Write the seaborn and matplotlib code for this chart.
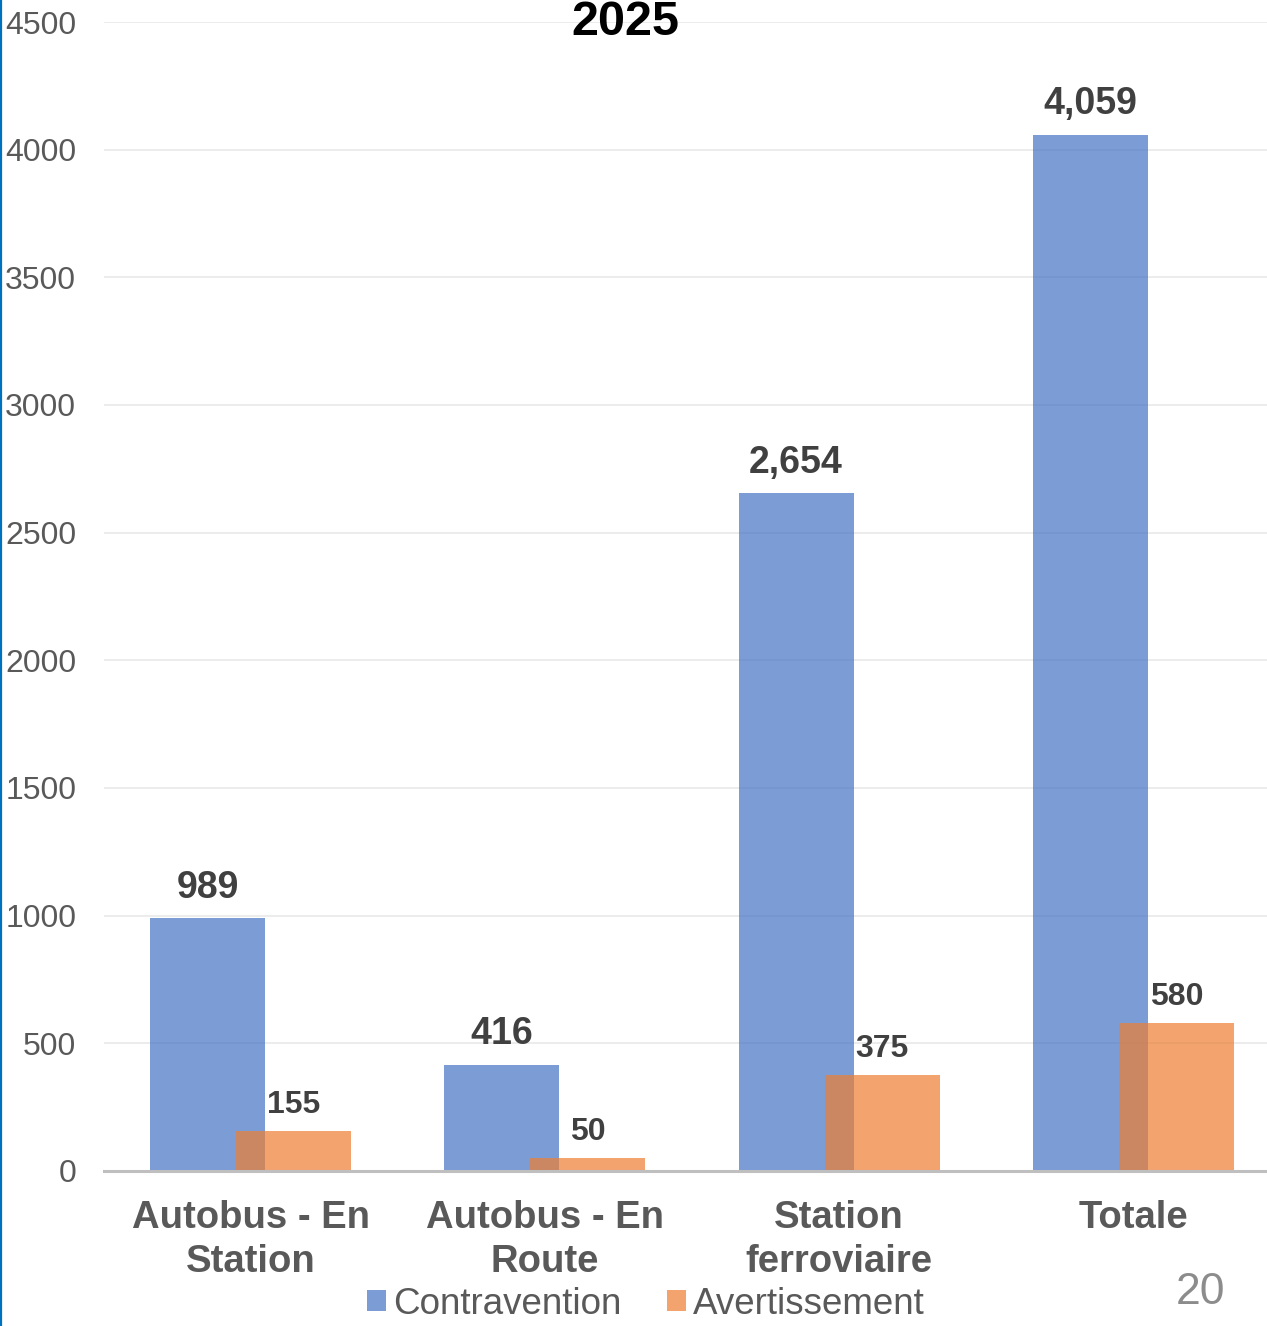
import matplotlib
matplotlib.use("Agg")
import matplotlib.pyplot as plt
from matplotlib.patches import Patch
from matplotlib.lines import Line2D
import seaborn as sns
import numpy as np
import pandas as pd

# Data
categories = ["Autobus - En\nStation", "Autobus - En\nRoute", "Station\nferroviaire", "Totale"]
contravention = [989, 416, 2654, 4059]
avertissement = [155, 50, 375, 580]
series_names = ["Contravention", "Avertissement"]
title_text = "2025"
page_number = "20"

sns.set_theme(style="white")
plt.rcParams["font.family"] = ["Liberation Sans", "DejaVu Sans"]

W, H = 1267, 1326
fig = plt.figure(figsize=(W / 100, H / 100), dpi=100)
ax = fig.add_axes([104 / W, 1 - 1171 / H, 1 - 104 / W, (1171 - 22) / H])

blue = "#4472C4"
orange = "#ED7D31"
alpha = 0.7
offset = 0.146
bar_w = 0.391

idx = np.arange(len(categories))
df_c = pd.DataFrame({"x": idx - offset, "value": contravention})
df_a = pd.DataFrame({"x": idx + offset, "value": avertissement})

sns.barplot(data=df_c, x="x", y="value", native_scale=True, width=bar_w,
            color=blue, alpha=alpha, saturation=1, errorbar=None, ax=ax,
            linewidth=0, zorder=2)
sns.barplot(data=df_a, x="x", y="value", native_scale=True, width=bar_w,
            color=orange, alpha=alpha, saturation=1, errorbar=None, ax=ax,
            linewidth=0, zorder=3)

# Value labels
ax.bar_label(ax.containers[0], labels=[f"{v:,}" for v in contravention],
             padding=9, fontsize=27, fontweight="bold", color="#404040")
ax.bar_label(ax.containers[1], labels=[f"{v:,}" for v in avertissement],
             padding=8, fontsize=23, fontweight="bold", color="#404040")

# Axes styling
ax.set_xlim(-0.498, 3.454)
ax.set_ylim(0, 4500)
ax.set_yticks(np.arange(0, 4501, 500))
ax.set_yticklabels([str(v) for v in range(0, 4501, 500)])
ax.set_xticks(idx)
ax.set_xticklabels(categories, fontsize=27.5, fontweight="bold",
                   color="#595959", linespacing=1.27)
ax.tick_params(axis="y", labelsize=23, labelcolor="#595959", length=0, pad=20)
ax.tick_params(axis="x", length=0, pad=21)
ax.set_xlabel("")
ax.set_ylabel("")
ax.grid(axis="y", color="#EBEBEB", linewidth=1.3, zorder=0)
ax.grid(axis="x", visible=False)
ax.set_axisbelow(True)
for side in ["left", "right", "top"]:
    ax.spines[side].set_visible(False)
ax.spines["bottom"].set_color("#BFBFBF")
ax.spines["bottom"].set_linewidth(2.2)
ax.spines["bottom"].set_zorder(5)

# Title
fig.text(625 / W, 1 - 35 / H, title_text, ha="center", va="baseline",
         fontsize=35, fontweight="bold", color="black")

# Legend
handles = [Patch(facecolor=blue, alpha=alpha, edgecolor="none"),
           Patch(facecolor=orange, alpha=alpha, edgecolor="none")]
fig.legend(handles, series_names, loc="center", bbox_to_anchor=(646 / W, 1 - 1304 / H),
           ncol=2, frameon=False, fontsize=26.5, labelcolor="#595959",
           handlelength=0.5, handleheight=0.5, handletextpad=0.2,
           columnspacing=1.25, borderpad=0, borderaxespad=0)

# Page number
fig.text(1200 / W, 1 - 1304 / H, page_number, ha="center", va="baseline",
         fontsize=32, color="#8C8C8C")

# Left edge rule
fig.add_artist(Line2D([1 / W, 1 / W], [0, 1], transform=fig.transFigure,
                      color="#0070C0", linewidth=1.6))

fig.savefig("out.png", dpi=100)
